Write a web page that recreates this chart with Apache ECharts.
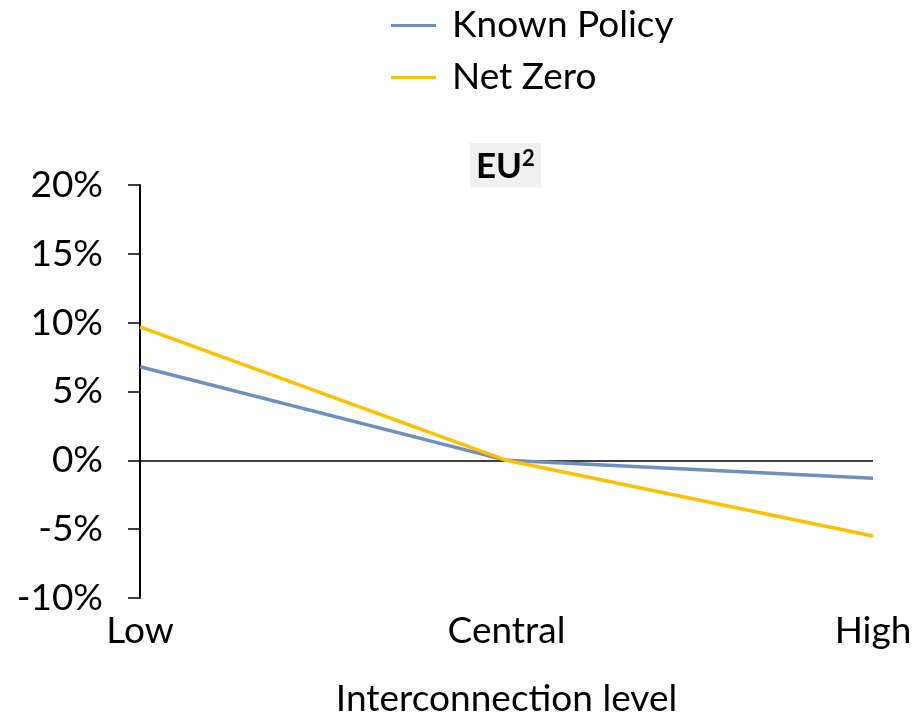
<!DOCTYPE html>
<html><head><meta charset="utf-8">
<script src="https://cdn.jsdelivr.net/npm/echarts@6/dist/echarts.min.js"></script>
<style>html,body{margin:0;padding:0;background:#fff}#c{width:915px;height:716px}</style>
</head><body><div id="c"></div>
<script>
const categories = ['Low', 'Central', 'High'];
const knownPolicy = [0.068, 0.0, -0.013];
const netZero = [0.097, 0.0, -0.055];
const yTicks = [-0.10, -0.05, 0, 0.05, 0.10, 0.15, 0.20];

const FONT = 'Lato';
const FS = 37;
const chart = echarts.init(document.getElementById('c'));
chart.setOption({
  animation: false,
  textStyle: { fontFamily: FONT },
  title: {
    text: '{a|EU}{s|2}', left: 470, top: 143,
    backgroundColor: '#F0F0F0', padding: [5, 6, 3, 6],
    textStyle: {
      fontFamily: FONT, fontSize: 35, fontWeight: 'bold', color: '#000',
      rich: {
        a: { fontFamily: FONT, fontSize: 35, fontWeight: 'bold', color: '#000', lineHeight: 38 },
        s: { fontFamily: FONT, fontSize: 22, fontWeight: 'bold', color: '#000', verticalAlign: 'top', lineHeight: 24 }
      }
    }
  },
  legend: {
    orient: 'vertical', left: 386, top: 2, itemGap: 15,
    icon: 'rect', itemWidth: 45, itemHeight: 3,
    textStyle: { fontFamily: FONT, fontSize: FS, color: '#000', padding: [0, 0, 0, 11] },
    data: ['Known Policy', 'Net Zero']
  },
  grid: { left: 140, right: 42, top: 185, bottom: 118, containLabel: false, outerBoundsMode: 'none' },
  xAxis: {
    type: 'category', data: categories, boundaryGap: false,
    name: 'Interconnection level', nameLocation: 'middle', nameGap: 83,
    nameTextStyle: { fontFamily: FONT, fontSize: FS, color: '#000' },
    axisLine: { show: false }, axisTick: { show: false },
    axisLabel: { fontFamily: FONT, fontSize: FS, color: '#000', margin: 15 }
  },
  yAxis: {
    type: 'value', min: -0.10, max: 0.20, interval: 0.05,
    axisLine: { show: true, lineStyle: { color: '#000', width: 2 } },
    axisTick: { show: true, length: 12, lineStyle: { color: '#000', width: 1.5 } },
    splitLine: { show: false },
    axisLabel: {
      fontFamily: FONT, fontSize: FS, color: '#000', margin: 37,
      formatter: v => Math.round(v * 100) + '%'
    }
  },
  series: [
    {
      name: 'Known Policy', type: 'line', data: knownPolicy, showSymbol: false,
      lineStyle: { color: '#6F8FBF', width: 3.5 }, itemStyle: { color: '#6F8FBF' },
      z: 3,
      markLine: {
        silent: true, symbol: 'none', label: { show: false },
        lineStyle: { color: '#000', width: 1.5, type: 'solid' },
        data: [{ yAxis: 0 }], z: 1
      }
    },
    {
      name: 'Net Zero', type: 'line', data: netZero, showSymbol: false,
      lineStyle: { color: '#FFC000', width: 3.5 }, itemStyle: { color: '#FFC000' },
      z: 4
    }
  ]
});
</script></body></html>
